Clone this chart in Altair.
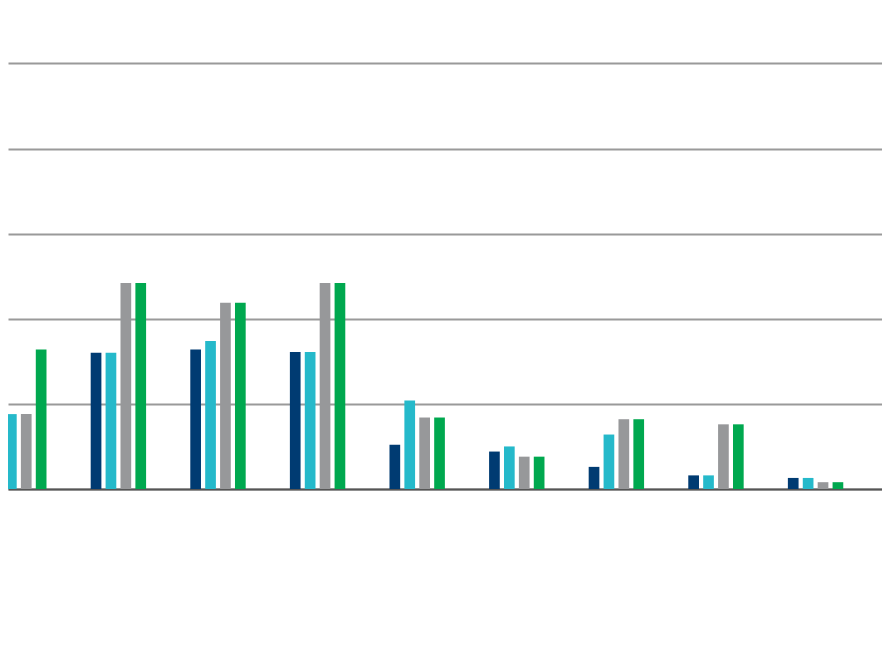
import altair as alt
import pandas as pd

# Category groups (labels not visible in the cropped reference)
groups = ["G1", "G2", "G3", "G4", "G5", "G6", "G7", "G8", "G9", "G10"]
series = ["Series 1", "Series 2", "Series 3", "Series 4"]

# Values (one gridline step = 10)
s1 = [11.4, 16.0, 16.4, 16.1, 5.2, 4.4, 2.6, 1.6, 1.3, 46.9]
s2 = [8.8, 16.0, 17.4, 16.1, 10.4, 5.0, 6.4, 1.6, 1.3, None]
s3 = [8.8, 24.2, 21.9, 24.2, 8.4, 3.8, 8.2, 7.6, 0.8, None]
s4 = [16.4, 24.2, 21.9, 24.2, 8.4, 3.8, 8.2, 7.6, 0.8, None]

colors = ["#003B72", "#25B9CA", "#97989A", "#00A84F"]

rows = []
for si, (name, vals) in enumerate(zip(series, [s1, s2, s3, s4])):
    for gi, (g, v) in enumerate(zip(groups, vals)):
        if v is not None:
            rows.append({"group": g, "gi": gi, "series": name, "si": si, "value": v})
df = pd.DataFrame(rows)

chart = (
    alt.Chart(df)
    .transform_calculate(pos="datum.gi + (datum.si - 1.5) * 0.1496")
    .mark_bar(size=10.7, clip=True)
    .encode(
        x=alt.X(
            "pos:Q",
            scale=alt.Scale(domain=[-0.1084, 8.667], nice=False, zero=False, padding=0),
            axis=alt.Axis(
                labels=False,
                ticks=False,
                grid=False,
                domain=True,
                domainColor="#555555",
                domainWidth=2,
                title=None,
            ),
        ),
        y=alt.Y(
            "value:Q",
            scale=alt.Scale(domain=[0, 56.52], nice=False, padding=0),
            axis=alt.Axis(
                values=[0, 10, 20, 30, 40, 50],
                labels=False,
                ticks=False,
                domain=False,
                gridColor="#9a9a9a",
                gridWidth=2,
                title=None,
            ),
        ),
        color=alt.Color(
            "series:N",
            scale=alt.Scale(domain=series, range=colors),
            legend=None,
        ),
    )
    .properties(
        width=874,
        height=481,
        autosize=alt.AutoSizeParams(type="none"),
        padding={"left": 0, "top": 0, "right": 0, "bottom": 6},
    )
    .configure_view(strokeWidth=0)
)

chart.save("out.html", embed_options={"renderer": "svg", "actions": False})
